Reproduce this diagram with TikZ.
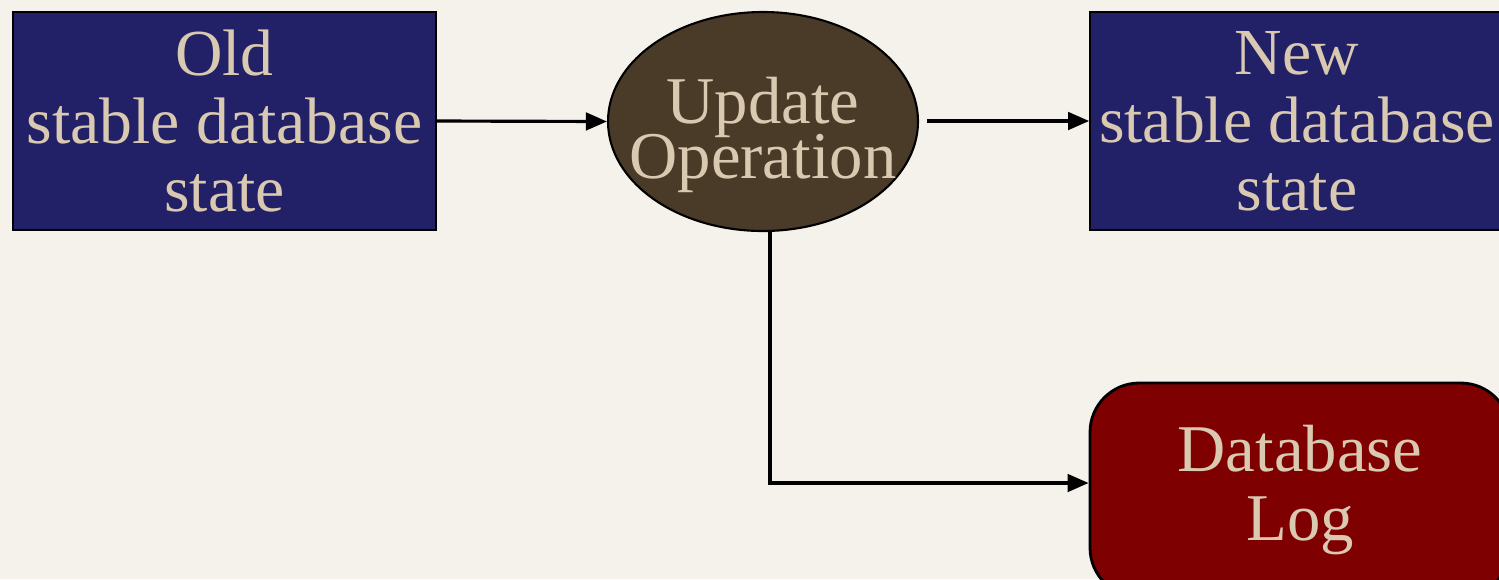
\documentclass[tikz,border=0pt]{standalone}
\usepackage{fontspec}
\setmainfont{Liberation Serif}
\usetikzlibrary{shapes.geometric,arrows.meta}
\definecolor{bgcol}{HTML}{F5F2EC}
\definecolor{navy}{HTML}{222066}
\definecolor{brownop}{HTML}{4A3A28}
\definecolor{logred}{HTML}{7F0000}
\definecolor{beige}{HTML}{D9C9B1}
\newcommand\tightlinespacing{\lineskiplimit=-20pt\relax}
\tikzset{
  lbl/.style={text=beige, align=center, font=\fontsize{18.7}{19.3}\selectfont, inner sep=0pt},
  statebox/.style={lbl, draw=black, line width=0.5pt, fill=navy, rectangle},
  opnode/.style={draw=black, line width=0.6pt, fill=brownop, ellipse, inner sep=0pt},
  optext/.style={lbl, font=\fontsize{19}{15.6}\selectfont\tightlinespacing},
  logbox/.style={lbl, draw=black, line width=0.8pt, fill=logred, rectangle, rounded corners=14pt, font=\fontsize{19}{19.8}\selectfont},
  conn/.style={line width=0.9pt, -{Triangle[length=6pt,width=5pt]}}
}
\begin{document}
\begin{tikzpicture}
\useasboundingbox (0,0) rectangle (14.99,5.79);
\fill[bgcol] (0,0) rectangle (14.99,5.79);
\clip (0,0) rectangle (14.99,5.79);
\node[statebox, minimum width=4.23cm, minimum height=2.18cm] (old) at (2.245,4.58) {Old\\stable database\\state};
\node[opnode, minimum width=3.10cm, minimum height=2.19cm] (op) at (7.63,4.575) {};
\node[optext] (optxt) at (7.63,4.44) {Update\\Operation};
\node[statebox, minimum width=4.14cm, minimum height=2.18cm] (new) at (12.97,4.58) {New\\stable database\\state};
\node[logbox, minimum width=4.20cm, minimum height=2.14cm] (log) at (13.00,0.89) {Database\\Log};
\coordinate (opout) at (9.27,4.58);
\coordinate (corner) at (7.70,0.96);
\draw[conn] (old.east) -- (op.west);
\draw[conn] (opout) -- (new.west);
\draw[conn] (op.south -| corner) -- (corner) -- (corner -| log.west);
\end{tikzpicture}
\end{document}
